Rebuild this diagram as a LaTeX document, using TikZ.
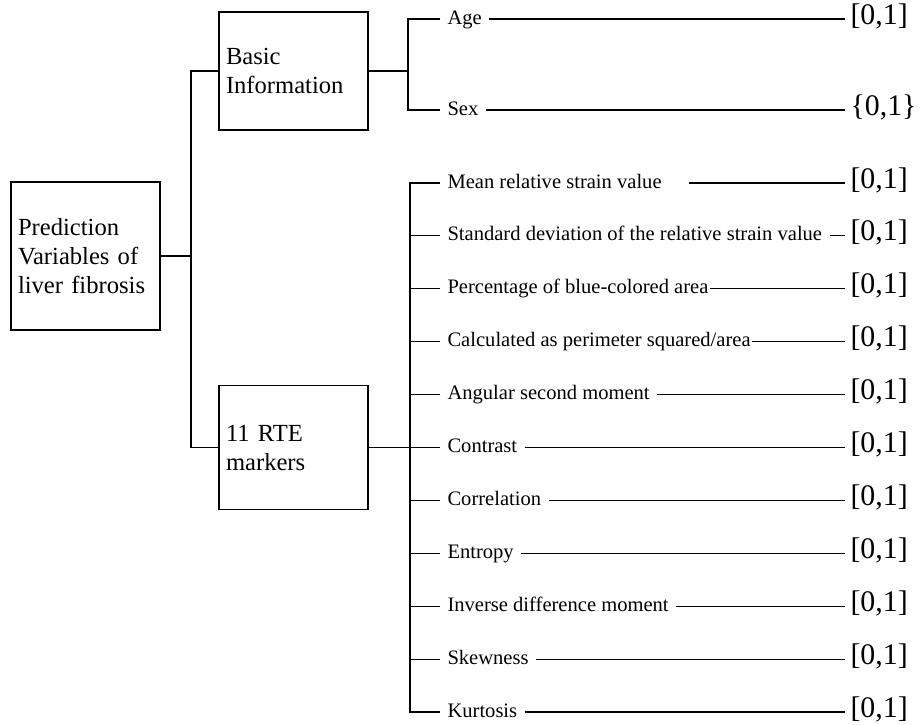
\documentclass[tikz,border=0pt]{standalone}
\usepackage{fontspec}
\setmainfont{Liberation Serif}

\begin{document}
\begin{tikzpicture}[
        line width=0.6pt,
        catbox/.style={draw, inner xsep=0.14cm, text width=2.70cm, align=left, font=\fontsize{14}{16.5}\selectfont},
        varitem/.style={anchor=west, inner xsep=0.14cm, inner ysep=0pt, text height=1.5ex, text depth=0.25ex, font=\fontsize{11.7}{14}\selectfont},
        rangelbl/.style={anchor=west, inner xsep=0.1cm, inner ysep=0pt, text height=1.5ex, text depth=0.25ex, font=\fontsize{17}{20}\selectfont},
    ]
        \useasboundingbox (0,0) rectangle (18.42,-14.48);

        % Boxes
        \node[catbox, minimum height=2.96cm] (pred) at (1.71, -5.12) {Prediction\\ Variables of\\ liver fibrosis};
        \node[catbox, minimum height=2.36cm] (basic) at (5.87, -1.42) {Basic\\ Information};
        \node[catbox, minimum height=2.48cm] (rte) at (5.87, -8.95) {11 RTE\\ markers};

        % Forks
        \coordinate (trunk) at (3.82, -5.12);
        \coordinate (bfork) at (8.16, -1.42);
        \coordinate (rfork) at (8.20, -8.95);

        % Basic information variables
        \node[varitem] (age) at (8.80, -0.38) {Age};
        \node[varitem] (sex) at (8.80, -2.20) {Sex};
        \node[rangelbl] (agev) at (16.90, -0.38) {[0,1]};
        \node[rangelbl] (sexv) at (16.90, -2.20) {\{0,1\}};

        % RTE markers
        \node[varitem] (mean) at (8.80, -3.660) {Mean relative strain value\kern0.40cm};
        \node[varitem] (std) at (8.80, -4.718) {Standard deviation of the relative strain value};
        \node[varitem] (perc) at (8.80, -5.776) {Percentage of blue-colored area\kern-0.12cm};
        \node[varitem] (calc) at (8.80, -6.834) {Calculated as perimeter squared/area\kern-0.12cm};
        \node[varitem] (asm) at (8.80, -7.892) {Angular second moment};
        \node[varitem] (contrast) at (8.80, -8.950) {Contrast};
        \node[varitem] (corr) at (8.80, -10.008) {Correlation};
        \node[varitem] (entr) at (8.80, -11.066) {Entropy};
        \node[varitem] (idm) at (8.80, -12.124) {Inverse difference moment};
        \node[varitem] (skew) at (8.80, -13.182) {Skewness};
        \node[varitem] (kurt) at (8.80, -14.240) {Kurtosis};

        \node[rangelbl] (meanv) at (16.90, -3.660) {[0,1]};
        \node[rangelbl] (stdv) at (16.90, -4.718) {[0,1]};
        \node[rangelbl] (percv) at (16.90, -5.776) {[0,1]};
        \node[rangelbl] (calcv) at (16.90, -6.834) {[0,1]};
        \node[rangelbl] (asmv) at (16.90, -7.892) {[0,1]};
        \node[rangelbl] (contrastv) at (16.90, -8.950) {[0,1]};
        \node[rangelbl] (corrv) at (16.90, -10.008) {[0,1]};
        \node[rangelbl] (entrv) at (16.90, -11.066) {[0,1]};
        \node[rangelbl] (idmv) at (16.90, -12.124) {[0,1]};
        \node[rangelbl] (skewv) at (16.90, -13.182) {[0,1]};
        \node[rangelbl] (kurtv) at (16.90, -14.240) {[0,1]};

        % Tree lines
        \draw (pred) -- (trunk);
        \draw (basic.west) -| (trunk) |- (rte.west);
        \draw (basic) -- (bfork);
        \draw (age.west) -| (bfork) |- (sex.west);
        \draw (rte) -- (contrast.west);
        \draw (mean.west) -| (rfork) |- (kurt.west);
        \foreach \n in {std, perc, calc, asm, corr, entr, idm, skew}
            \draw (rfork |- \n.west) -- (\n.west);

        % Leaders to ranges
        \foreach \n in {age, sex, mean, std, perc, calc, asm, contrast, corr, entr, idm, skew, kurt}
            \draw (\n) -- (\n v);
    \end{tikzpicture}
\end{document}
